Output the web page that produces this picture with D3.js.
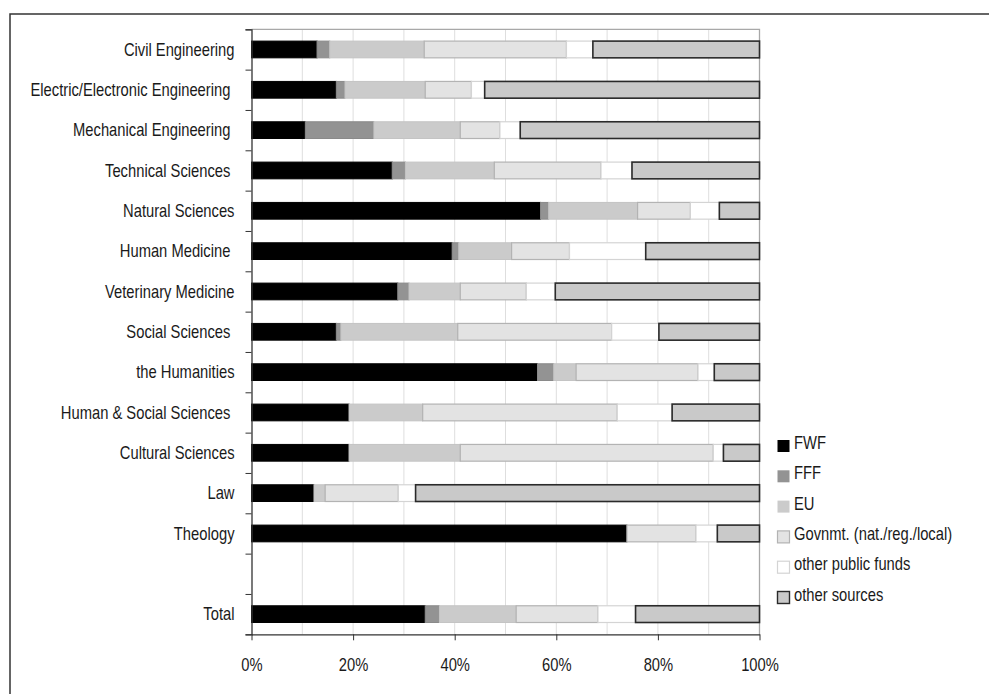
<!DOCTYPE html>
<html>
<head>
<meta charset="utf-8">
<script src="https://cdn.jsdelivr.net/npm/d3@7"></script>
<style>
  html, body { margin: 0; padding: 0; background: #fff; }
  svg { display: block; }
  text { font-family: "Liberation Sans", Arial, sans-serif; fill: #1a1a1a; }
</style>
</head>
<body>
<svg id="chart" width="989" height="694"></svg>
<script>
// ---- data (percent shares) ----
const categories = [
  "Civil Engineering",
  "Electric/Electronic Engineering ",
  "Mechanical Engineering ",
  "Technical Sciences ",
  "Natural Sciences",
  "Human Medicine ",
  "Veterinary Medicine",
  "Social Sciences ",
  "the Humanities",
  "Human & Social Sciences ",
  "Cultural Sciences",
  "Law",
  "Theology",
  "",
  "Total"
];
const seriesNames = ["FWF", "FFF", "EU", "Govnmt. (nat./reg./local)", "other public funds", "other sources"];
const fwf          = [12.9, 16.7, 10.6, 27.7, 56.9, 39.5, 28.8, 16.7, 56.3, 19.2, 19.2, 12.3, 73.9, null, 34.2];
const fff          = [ 2.5,  1.7, 13.5,  2.6,  1.6,  1.3,  2.2,  0.9,  3.2,  0.0,  0.0,  0.0,  0.0, null,  2.8];
const eu           = [18.6, 15.8, 17.0, 17.5, 17.5, 10.4, 10.1, 23.0,  4.4, 14.5, 21.9,  2.2,  0.0, null, 15.1];
const govnmt       = [28.0,  9.1,  7.8, 21.0, 10.4, 11.4, 13.0, 30.3, 24.0, 38.3, 49.8, 14.4, 13.6, null, 16.1];
const otherPublic  = [ 5.2,  2.6,  4.0,  6.1,  5.7, 15.0,  5.7,  9.3,  3.2, 10.8,  2.0,  3.4,  4.2, null,  7.4];
const otherSources = [32.8, 54.1, 47.1, 25.1,  7.9, 22.4, 40.2, 19.8,  8.9, 17.2,  7.1, 67.7,  8.3, null, 24.4];
const xTicks = [0, 20, 40, 60, 80, 100];
const xTickLabels = ["0%", "20%", "40%", "60%", "80%", "100%"];

const seriesValues = [fwf, fff, eu, govnmt, otherPublic, otherSources];
const fills   = ["#000000", "#939393", "#cbcbcb", "#e3e3e3", "#ffffff", "#c9c9c9"];
const strokes = ["#000000", "#8a8a8a", "#c4c4c4", "#b3b3b3", "#d4d4d4", "#2a2a2a"];
const strokeW = [1, 1, 1, 1.2, 1.2, 1.6];

// ---- table for d3.stack ----
const rows = categories.map((c, i) => {
  const r = { cat: i, name: c };
  seriesNames.forEach((s, k) => { r[s] = seriesValues[k][i] == null ? 0 : seriesValues[k][i]; });
  r.empty = seriesValues[0][i] == null;
  return r;
});

const svg = d3.select("#chart");
const pLeft = 251.5, pRight = 759.5, pTop = 29.3, pBottom = 634.3;
const FONT = "18px";
const NARROW = "scale(0.82,1)";

// outer frame
svg.append("path")
  .attr("d", `M10,700 V14 H995`)
  .attr("fill", "none").attr("stroke", "#333").attr("stroke-width", 1.5);

const x = d3.scaleLinear().domain([0, 100]).range([pLeft, pRight]);
const y = d3.scaleBand().domain(d3.range(categories.length)).range([pTop, pBottom])
  .paddingInner(0.585).paddingOuter(0.2925);
const yEdges = d3.scaleLinear().domain([0, categories.length]).range([pTop, pBottom]);

// gridlines
svg.append("g").selectAll("line")
  .data(d3.range(10, 100, 10))
  .join("line")
  .attr("x1", d => x(d)).attr("x2", d => x(d))
  .attr("y1", pTop).attr("y2", pBottom)
  .attr("stroke", "#dedede").attr("stroke-width", 1);

// plot border top & right
svg.append("path")
  .attr("d", `M${pLeft},${pTop} H${pRight} V${pBottom}`)
  .attr("fill", "none").attr("stroke", "#a8a8a8").attr("stroke-width", 1.3);

// bars
const stack = d3.stack().keys(seriesNames);
const stacked = stack(rows);
svg.append("g").selectAll("g")
  .data(stacked)
  .join("g")
  .attr("fill", (d, i) => fills[i])
  .attr("stroke", (d, i) => strokes[i])
  .attr("stroke-width", (d, i) => strokeW[i])
  .selectAll("rect")
  .data(d => d.filter(p => !p.data.empty && p[1] - p[0] > 0))
  .join("rect")
  .attr("x", p => x(p[0]))
  .attr("width", p => x(p[1]) - x(p[0]))
  .attr("y", p => y(p.data.cat))
  .attr("height", y.bandwidth());

// y axis (boundary ticks)
const yAxisG = svg.append("g").attr("transform", `translate(${pLeft},0)`)
  .call(d3.axisLeft(yEdges).tickValues(d3.range(categories.length + 1)).tickSize(6).tickFormat(""));
yAxisG.select(".domain").attr("stroke", "#333").attr("stroke-width", 1.3);
yAxisG.selectAll(".tick line").attr("stroke", "#333");

// category labels
svg.append("g").selectAll("g")
  .data(categories)
  .join("g")
  .attr("transform", (d, i) => `translate(${pLeft - 17},${y(i) + y.bandwidth() / 2}) ${NARROW}`)
  .append("text")
  .attr("dy", "0.35em")
  .attr("text-anchor", "end")
  .style("white-space", "pre")
  .attr("font-size", FONT)
  .text(d => d);

// x axis
const xAxisG = svg.append("g").attr("transform", `translate(0,${pBottom})`)
  .call(d3.axisBottom(x).tickValues(xTicks).tickSize(6).tickSizeOuter(0).tickPadding(18)
    .tickFormat((d, i) => xTickLabels[i]));
xAxisG.select(".domain").attr("stroke", "#333").attr("stroke-width", 1.3);
xAxisG.selectAll(".tick line").attr("stroke", "#333");
xAxisG.selectAll(".tick text")
  .attr("font-family", "'Liberation Sans', Arial, sans-serif")
  .attr("font-size", FONT).attr("fill", "#1a1a1a")
  .attr("transform", NARROW);

// legend
const legend = svg.append("g").selectAll("g")
  .data(seriesNames)
  .join("g")
  .attr("transform", (d, i) => `translate(777.5,${449 + i * 30.3})`);
legend.append("rect")
  .attr("x", 0).attr("y", -9).attr("width", 12).attr("height", 12)
  .attr("fill", (d, i) => fills[i])
  .attr("stroke", (d, i) => i < 3 ? "none" : strokes[i])
  .attr("stroke-width", (d, i) => i === 5 ? 1.4 : 1.2);
legend.append("g")
  .attr("transform", `translate(16.5,0) ${NARROW}`)
  .append("text")
  .attr("font-size", FONT)
  .text(d => d);
</script>
</body>
</html>
